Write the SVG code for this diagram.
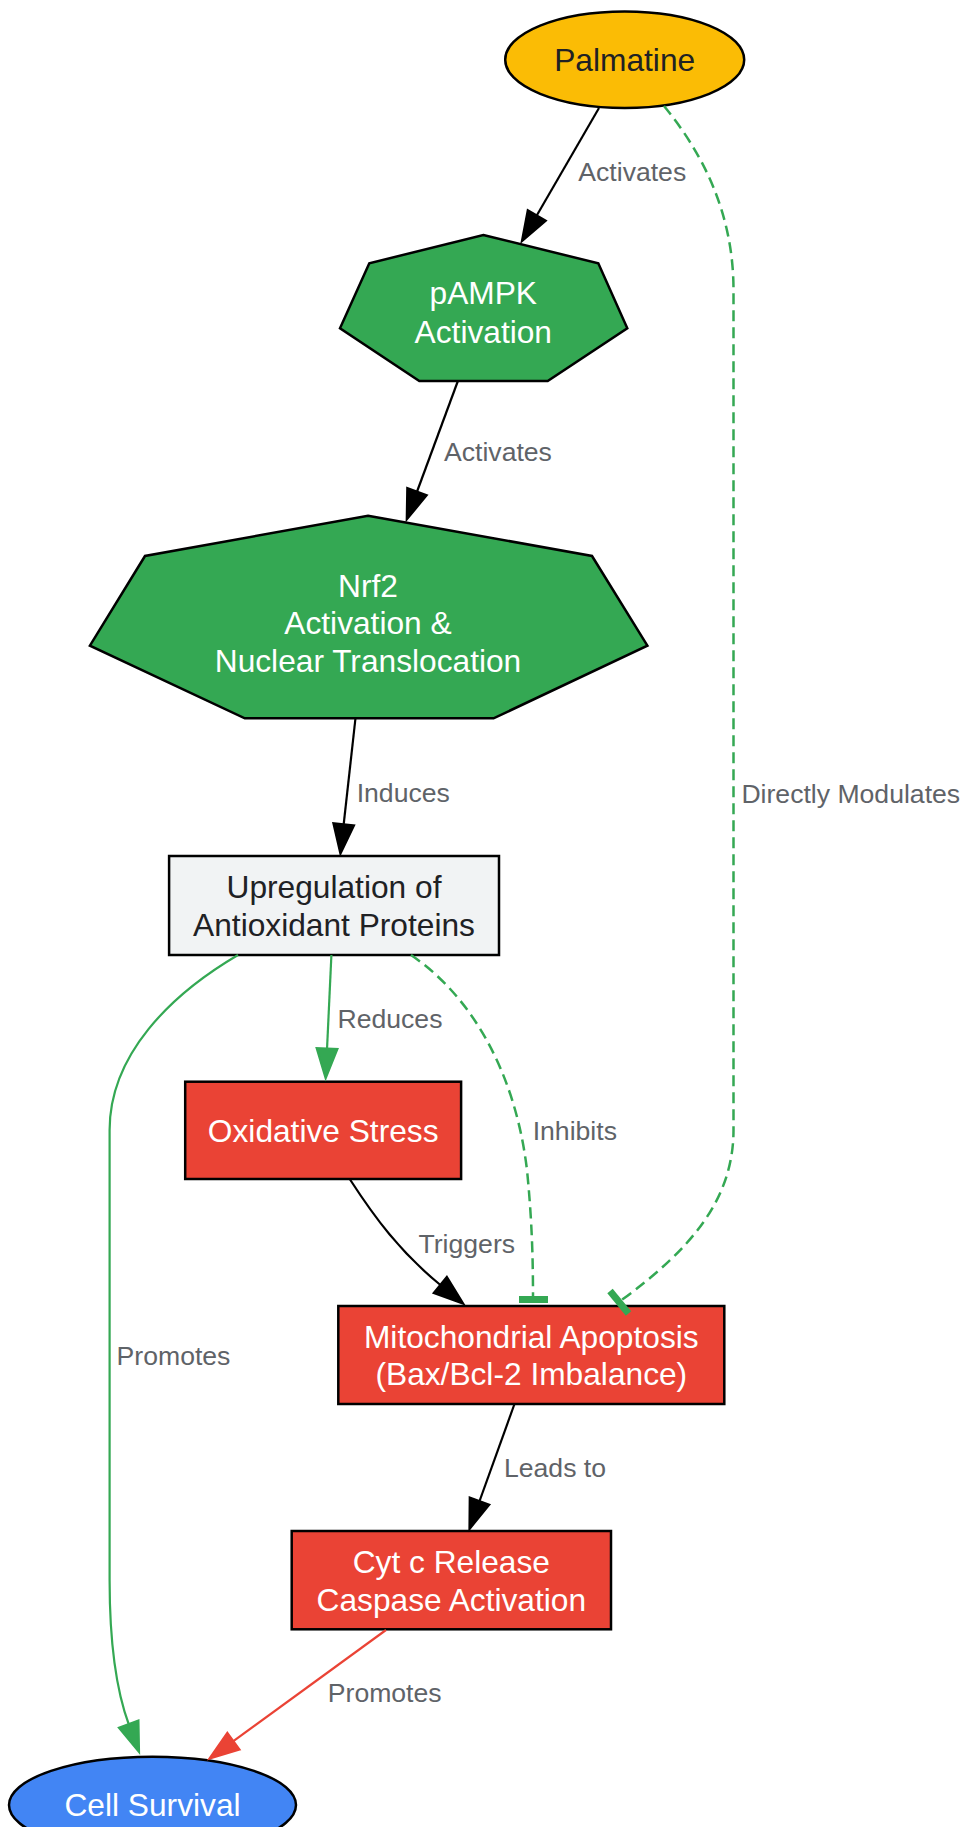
<svg xmlns="http://www.w3.org/2000/svg" width="964" height="1827" viewBox="0 0 964 1827">
<style>
.nt{font-family:"Liberation Sans",Arial,sans-serif;font-size:31.7px;text-anchor:middle}
.w{fill:#ffffff}
.d{fill:#202124}
.el{font-family:"Liberation Sans",Arial,sans-serif;font-size:26.6px;fill:#5F6368}
.nb{stroke:#000;stroke-width:2.5}
.e{fill:none;stroke-width:2.2}
.k{stroke:#000}
.g{stroke:#34A853}
.r{stroke:#EA4335}
.dash{stroke-dasharray:11,6;stroke-width:2.5}
</style>
<defs>
<marker id="ak" markerUnits="userSpaceOnUse" markerWidth="34" markerHeight="26" refX="1" refY="11" orient="auto" overflow="visible"><path d="M0,0.5 L30,11 L0,21.5 z" fill="#000" stroke="#000" stroke-width="2"/></marker>
<marker id="ag" markerUnits="userSpaceOnUse" markerWidth="34" markerHeight="26" refX="1" refY="11" orient="auto" overflow="visible"><path d="M0,0.5 L30,11 L0,21.5 z" fill="#34A853" stroke="#34A853" stroke-width="2"/></marker>
<marker id="ar" markerUnits="userSpaceOnUse" markerWidth="34" markerHeight="26" refX="1" refY="11" orient="auto" overflow="visible"><path d="M0,0.5 L30,11 L0,21.5 z" fill="#EA4335" stroke="#EA4335" stroke-width="2"/></marker>
</defs>
<rect width="964" height="1827" fill="#ffffff"/>

<g id="node-palmatine">
<ellipse cx="624.7" cy="59.7" rx="119.5" ry="48.3" fill="#FBBC05" class="nb"/>
<text class="nt d" x="624.7" y="71">Palmatine</text>
</g>
<g id="node-pampk">
<polygon points="483.3,235 598.3,263.3 627.3,328.3 547.7,381 419.3,381 340,328.3 369.3,263.3" fill="#34A853" class="nb"/>
<text class="nt w" x="483.3" y="303.5">pAMPK</text>
<text class="nt w" x="483.3" y="342.5">Activation</text>
</g>
<g id="node-nrf2">
<polygon points="368,515.7 592,556 647.4,645.7 493.6,718.3 244.8,718.3 89.9,645.7 145,556" fill="#34A853" class="nb"/>
<text class="nt w" x="368" y="596.7">Nrf2</text>
<text class="nt w" x="368" y="634.3">Activation &amp;</text>
<text class="nt w" x="368" y="671.9">Nuclear Translocation</text>
</g>
<g id="node-upregulation">
<rect x="169.1" y="856" width="329.9" height="99" fill="#F1F3F4" class="nb"/>
<text class="nt d" x="334" y="898.2">Upregulation of</text>
<text class="nt d" x="334" y="936.2">Antioxidant Proteins</text>
</g>
<g id="node-oxidative">
<rect x="185.2" y="1081.7" width="275.9" height="97.3" fill="#EA4335" class="nb"/>
<text class="nt w" x="323.2" y="1141.7">Oxidative Stress</text>
</g>
<g id="node-mito">
<rect x="338.3" y="1306" width="386" height="98" fill="#EA4335" class="nb"/>
<text class="nt w" x="531.3" y="1347.6">Mitochondrial Apoptosis</text>
<text class="nt w" x="531.3" y="1385.4">(Bax/Bcl-2 Imbalance)</text>
</g>
<g id="node-cytc">
<rect x="291.7" y="1531" width="319.3" height="98.3" fill="#EA4335" class="nb"/>
<text class="nt w" x="451.3" y="1572.8">Cyt c Release</text>
<text class="nt w" x="451.3" y="1610.5">Caspase Activation</text>
</g>
<g id="node-cellsurvival">
<ellipse cx="152.5" cy="1805" rx="143.5" ry="48.3" fill="#4285F4" class="nb"/>
<text class="nt w" x="152.5" y="1816">Cell Survival</text>
</g>

<g id="connectors">
<path class="e k" d="M599,108 L536.3,216.3" marker-end="url(#ak)"/>
<text class="el" x="578.3" y="181">Activates</text>

<path class="e g dash" d="M664,106 C700,150 733.5,210 733.5,290 L733.5,1130 C733.5,1200 690,1250 621,1300.5"/>
<line x1="610" y1="1291" x2="628.5" y2="1313.5" stroke="#34A853" stroke-width="7"/>
<text class="el" x="741.4" y="803">Directly Modulates</text>

<path class="e k" d="M457.7,381.5 L416.7,492.5" marker-end="url(#ak)"/>
<text class="el" x="444" y="460.7">Activates</text>

<path class="e k" d="M355.5,718 L343.6,825.2" marker-end="url(#ak)"/>
<text class="el" x="356.7" y="801.7">Induces</text>

<path class="e g" d="M331.4,955 L327,1049.5" marker-end="url(#ag)"/>
<text class="el" x="337.5" y="1028.3">Reduces</text>

<path class="e g dash" d="M411,955 C470,995 515,1070 527,1170 C532,1220 533,1260 533,1296"/>
<rect x="519" y="1296" width="29" height="7" fill="#34A853"/>
<text class="el" x="532.7" y="1140">Inhibits</text>

<path class="e g" d="M238,955 C170,995 109.6,1055 109.6,1130 L109.6,1580 C109.6,1640 116,1690 129,1725" marker-end="url(#ag)"/>
<text class="el" x="116.6" y="1364.7">Promotes</text>

<path class="e k" d="M349.7,1179 C375,1218 400,1252 441,1285.5" marker-end="url(#ak)"/>
<text class="el" x="418.5" y="1253">Triggers</text>

<path class="e k" d="M514.3,1404.5 L479.2,1502" marker-end="url(#ak)"/>
<text class="el" x="504" y="1476.7">Leads to</text>

<path class="e r" d="M386,1630 L232.7,1741.7" marker-end="url(#ar)"/>
<text class="el" x="327.8" y="1701.7">Promotes</text>
</g>
</svg>
